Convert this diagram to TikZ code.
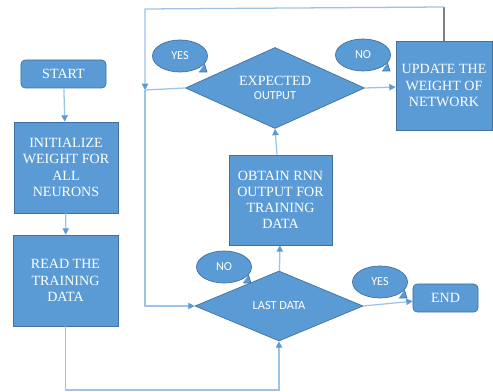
\documentclass[tikz,border=0pt]{standalone}
\usepackage{fontspec}
\setmainfont{Liberation Serif}
\newfontfamily\calloutfont{Carlito}
\usetikzlibrary{shapes.geometric, arrows.meta}
\definecolor{boxblue}{HTML}{5B9BD5}
\definecolor{boxedge}{HTML}{41719C}
\definecolor{flowline}{HTML}{9DC3E6}

\begin{document}
\begin{tikzpicture}[x=0.025cm, y=-0.025cm,
  every node/.style={text=white, font=\rmfamily\fontsize{10}{11.5}\selectfont},
  block/.style={rectangle, draw=boxedge, fill=boxblue, align=center, inner sep=1pt, line width=0.5pt},
  terminal/.style={block, rounded corners=3pt},
  decision/.style={diamond, draw=boxedge, fill=boxblue, align=center, inner sep=0pt, aspect=2.2, line width=0.5pt},
  answer/.style={ellipse, draw=boxedge, fill=boxblue, minimum width=1.375cm, minimum height=0.8cm, inner sep=0pt, line width=0.5pt, font=\calloutfont\fontsize{8.7}{10}\selectfont},
  tail/.style={fill=boxblue, draw=boxedge, line width=0.5pt},
  line/.style={draw=flowline, line width=0.9pt},
  arrow/.style={line, -{Triangle[width=4.5pt, length=4.5pt, color=boxblue]}}]
        % Fix the page size
        \useasboundingbox (0,0) rectangle (493,392);

        % Draw the left column
        \node[terminal, minimum width=2.125cm, minimum height=0.7cm] (start) at (63.5,74) {START};
        \node[block, minimum width=2.6cm, minimum height=2.275cm] (init) at (66,167.5) {INITIALIZE\\WEIGHT FOR\\ALL\\NEURONS};
        \node[block, minimum width=2.625cm, minimum height=2.275cm] (read) at (65.5,280.5) {READ THE\\TRAINING\\DATA};

        % Draw the decisions and the middle column
        \node[decision, minimum width=4.2cm, minimum height=1.75cm, font=\calloutfont\fontsize{8.8}{10}\selectfont] (last) at (279,306) {LAST DATA};
        \node[block, minimum width=2.575cm, minimum height=2.25cm] (obtain) at (280.5,200) {OBTAIN RNN\\OUTPUT FOR\\TRAINING\\DATA};
        \node[decision, minimum width=4.475cm, minimum height=2.025cm] (expected) at (275,88) {EXPECTED\\[-1pt]{\calloutfont\fontsize{8.7}{10}\selectfont OUTPUT}};

        % Draw the right column
        \node[block, minimum width=2.4cm, minimum height=2.225cm] (update) at (444,85.5) {UPDATE THE\\WEIGHT OF\\NETWORK};
        \node[terminal, minimum width=1.625cm, minimum height=0.7cm] (end) at (445.5,298) {END};

        % Draw the answer bubbles with their small tails
        \node[answer] (yesexp) at (180,56) {YES};
        \node[answer] (noexp) at (363,55) {NO};
        \node[answer] (nolast) at (224,267) {NO};
        \node[answer] (yeslast) at (380,282) {YES};
        \foreach \b in {yesexp,noexp,nolast,yeslast}
        {
          \path[tail] (\b.-18) -- ([shift={(27,16)}]\b.center) -- ([shift={(19,16)}]\b.center);
        }

        % Corners of the loops
        \coordinate (bot) at (279,390);
        \coordinate (topright) at (444,7);
        \coordinate (topleft) at (145,9);
        \coordinate (join) at (145,90);

        \draw[arrow] (start) -- (init);
        \draw[arrow] (init) -- (read);
        \draw[arrow] (read.south) |- (bot) -- (last.south);
        \draw[arrow] (last) -- (obtain);
        \draw[arrow] (obtain) -- (expected.south);
        \draw[arrow] (last.east) -- (end);
        \draw[arrow] (expected.east) -- (update);
        \draw[line] (expected.west) -- (join);
        \draw[line, draw=gray] (update.north) -- (topright);
        \draw[arrow] (topright) -- (topleft) -- (join);
        \draw[arrow] (join) |- (last.west);
      \end{tikzpicture}
\end{document}
